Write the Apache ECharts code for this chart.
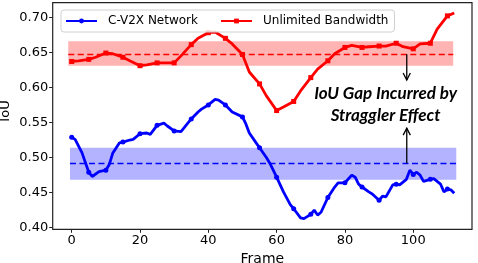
<!DOCTYPE html>
<html><head><meta charset="utf-8">
<script src="https://cdn.jsdelivr.net/npm/echarts@6/dist/echarts.min.js"></script>
<style>html,body{margin:0;padding:0;background:#fff}#c{width:478px;height:263px}</style>
</head><body><div id="c"></div>
<script>
const seriesNames = ['C-V2X Network', 'Unlimited Bandwidth'];
const blueFrames = [0,1,3,5,6,8,10,11,12,14,15,17,18,20,22,23,25,27,28,30,32,35,37,38,40,42,43,45,47,50,51,52,54,55,57,58,60,62,64,65,67,68,70,71,72,73,75,77,78,80,82,83,84,85,87,88,90,91,92,94,95,96,98,99,100,101,102,103,105,106,108,109,110,111,112];
const blueIoU = [0.529,0.526,0.507,0.479,0.473,0.480,0.482,0.490,0.506,0.521,0.522,0.525,0.526,0.534,0.535,0.533,0.546,0.549,0.545,0.538,0.537,0.555,0.565,0.569,0.575,0.583,0.582,0.575,0.565,0.558,0.548,0.535,0.521,0.514,0.500,0.492,0.472,0.451,0.433,0.427,0.414,0.413,0.419,0.425,0.418,0.422,0.443,0.458,0.464,0.464,0.475,0.472,0.462,0.458,0.451,0.448,0.439,0.445,0.444,0.461,0.462,0.461,0.469,0.482,0.476,0.479,0.475,0.466,0.469,0.470,0.462,0.451,0.455,0.454,0.449];
const redFrames = [0,2,5,7,10,12,15,17,20,22,25,27,30,32,35,37,40,42,45,47,50,52,55,57,60,62,65,67,70,72,75,77,80,82,85,87,90,92,95,97,100,102,105,107,110,112];
const redIoU = [0.637,0.638,0.640,0.643,0.649,0.648,0.643,0.638,0.631,0.632,0.635,0.635,0.635,0.645,0.661,0.670,0.678,0.679,0.670,0.662,0.647,0.622,0.605,0.588,0.567,0.572,0.580,0.595,0.614,0.626,0.638,0.648,0.657,0.660,0.657,0.658,0.659,0.659,0.663,0.658,0.655,0.662,0.663,0.683,0.702,0.706];
const xTicks = [0,20,40,60,80,100];
const yTicks = [0.40,0.45,0.50,0.55,0.60,0.65,0.70];
const redBand = [0.631, 0.6472, 0.666];   // low, mean, high
const blueBand = [0.4683, 0.4917, 0.514]; // low, mean, high
const redBandFrames = [-1, 111.7];
const blueBandFrames = [-0.5, 112.6];
const gapFrame = 98.1;
const annotationLines = ['IoU Gap Incurred by', 'Straggler Effect'];
const axisNames = ['Frame', 'IoU'];

const pairs = (xs, ys) => xs.map((x, i) => [x, ys[i]]);
const markerSize = s => (v => (v[0] % 5 === 0 ? s : 0));
const font = 'DejaVu Sans';

const chart = echarts.init(document.getElementById('c'), null, {renderer: 'canvas'});

function bandMarks(frames, band, fill, stroke) {
  return {
    markArea: {silent: true, itemStyle: {color: fill}, label: {show: false},
      data: [[{coord: [frames[0], band[0]]}, {coord: [frames[1], band[2]]}]]},
    markLine: {silent: true, symbol: 'none', label: {show: false},
      lineStyle: {color: stroke, type: [6, 3.5], width: 1.3},
      emphasis: {disabled: true},
      data: [[{coord: [frames[0], band[1]]}, {coord: [frames[1], band[1]]}]]}
  };
}

const axisFont = {fontFamily: font, fontSize: 13, color: '#000'};

chart.setOption({
  animation: false,
  grid: {left: 52.7, right: 6, top: 2.7, bottom: 33.7, show: true, borderColor: '#222', borderWidth: 1.2, outerBoundsMode: 'none'},
  legend: {
    data: seriesNames, left: 61, top: 10, padding: [5, 6, 5, 4],
    itemWidth: 31, itemHeight: 6, itemGap: 22,
    backgroundColor: 'rgba(255,255,255,0.8)', borderColor: '#d0d0d0', borderWidth: 1, borderRadius: 3,
    textStyle: {fontFamily: font, fontSize: 12, color: '#000', padding: [0, 0, 0, 6]}
  },
  xAxis: {
    type: 'value', min: -5.56, max: 117.2,
    name: axisNames[0], nameLocation: 'middle', nameGap: 21,
    nameTextStyle: {fontFamily: font, fontSize: 14, color: '#000'},
    axisLine: {show: false}, splitLine: {show: false},
    axisTick: {show: true, length: 3.5, customValues: xTicks, lineStyle: {color: '#222', width: 1}},
    axisLabel: Object.assign({customValues: xTicks, margin: 5}, axisFont)
  },
  yAxis: {
    type: 'value', min: 0.3977, max: 0.7208,
    axisLine: {show: false, onZero: false}, splitLine: {show: false},
    axisTick: {show: true, length: 3.5, customValues: yTicks, lineStyle: {color: '#222', width: 1}},
    axisLabel: Object.assign({customValues: yTicks, margin: 4.5, formatter: v => v.toFixed(2)}, axisFont)
  },
  series: [
    Object.assign({
      name: seriesNames[0], type: 'line', data: pairs(blueFrames, blueIoU),
      color: '#0000ff', lineStyle: {width: 2.8}, symbol: 'circle', symbolSize: markerSize(5),
      showAllSymbol: true, z: 3, emphasis: {disabled: true}
    }, bandMarks(blueBandFrames, blueBand, '#b3b3ff', '#0000ff')),
    Object.assign({
      name: seriesNames[1], type: 'line', data: pairs(redFrames, redIoU),
      color: '#ff0000', lineStyle: {width: 2.8}, symbol: 'rect', symbolSize: markerSize(5),
      showAllSymbol: true, z: 3, emphasis: {disabled: true}
    }, bandMarks(redBandFrames, redBand, '#ffb3b3', '#ff0000'))
  ]
});

const px = p => chart.convertToPixel({gridIndex: 0}, p);
function arrow(fromVal, toVal) {
  const a = px([gapFrame, fromVal]), b = px([gapFrame, toVal]);
  const dir = Math.sign(b[1] - a[1]);
  const hl = 7, hw = 3.6;
  return [
    {type: 'line', shape: {x1: a[0], y1: a[1], x2: b[0], y2: b[1]}, style: {stroke: '#000', lineWidth: 1.3}, z: 10},
    {type: 'polyline', shape: {points: [[b[0] - hw, b[1] - dir * hl], [b[0], b[1]], [b[0] + hw, b[1] - dir * hl]]},
      style: {stroke: '#000', lineWidth: 1.3, fill: null}, z: 10}
  ];
}
const textAt = px([91.9, 0.576]);
chart.setOption({
  graphic: [
    ...arrow(redBand[1], 0.6106),
    ...arrow(blueBand[1], 0.542),
    {type: 'text', z: 10, style: {
      x: textAt[0], y: textAt[1], text: annotationLines.join('\n'),
      fontFamily: 'Lato', fontWeight: 'bold', fontStyle: 'italic', fontSize: 17,
      lineHeight: 21.7, align: 'center', verticalAlign: 'middle', fill: '#000'}},
    {type: 'text', z: 10, x: 5.5, y: 111, rotation: Math.PI / 2, style: {
      x: 0, y: 0, text: axisNames[1], fontFamily: font, fontSize: 13,
      align: 'center', verticalAlign: 'middle', fill: '#000'}}
  ]
});
</script>
</body></html>
